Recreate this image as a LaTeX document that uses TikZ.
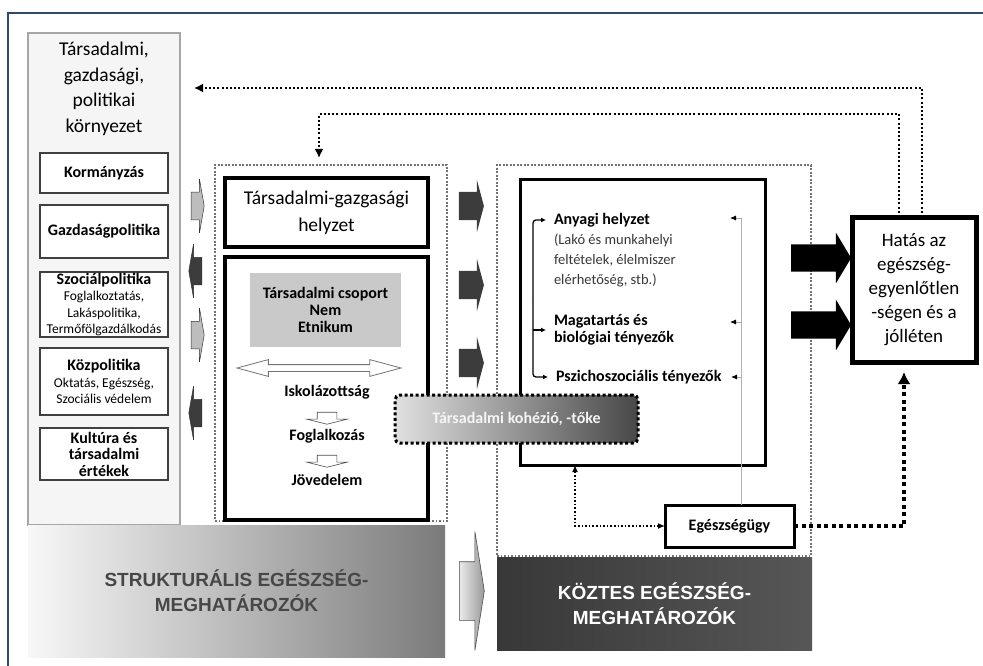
\documentclass[tikz,border=0pt]{standalone}
\usepackage{fontspec}
\setmainfont{Carlito}
\newfontfamily\capsfont{Liberation Sans}
\usepackage{xcolor}
\usetikzlibrary{arrows.meta,shapes.arrows}

\definecolor{framecol}{HTML}{2E4A6B}
\definecolor{lightarr}{HTML}{BDBDBD}
\definecolor{darkarr}{HTML}{3C3C3C}
\definecolor{grayfill}{HTML}{C9C9C9}

\begin{document}
\begin{tikzpicture}[x=1pt,y=-1pt,
    every node/.style={inner sep=0pt,outer sep=0pt},
    smallbox/.style={draw=black!75,line width=1.5pt,fill=white,minimum width=128pt,
      align=center,font=\bfseries\fontsize{16}{16.5}\selectfont},
    thickbox/.style={draw=black,line width=4pt,fill=white},
    dotbox/.style={draw=black!55,line width=1.6pt,dash pattern=on 1.6pt off 1.9pt},
    boldtxt/.style={font=\bfseries\fontsize{16}{17}\selectfont,align=center},
    sidearr/.style={single arrow,draw=black!80,line width=0.5pt,minimum height=13pt,
      inner xsep=0pt,inner ysep=13.5pt,single arrow head extend=13pt,single arrow tip angle=160},
    midarr/.style={single arrow,fill=darkarr,minimum height=25pt,inner xsep=0pt,inner ysep=14pt,
      single arrow head extend=12pt,single arrow tip angle=150},
    bigarr/.style={single arrow,fill=black,minimum height=60pt,inner xsep=0pt,inner ysep=13.5pt,
      single arrow head extend=11.5pt,single arrow tip angle=118},
    downarr/.style={single arrow,shape border rotate=270,draw=black!70,fill=white,
      line width=0.6pt,minimum height=12pt,inner xsep=9.5pt,inner ysep=0pt,
      single arrow head extend=10.5pt,single arrow tip angle=152},
    brkarr/.style={line width=1.3pt,rounded corners=3pt,shorten >=8pt,
      -{Latex[length=5pt,width=5pt]}},
    grayarr/.style={draw=black!35,line width=0.8pt,-{Latex[length=6pt,width=5pt,color=black]}},
    dotlink/.style={line width=1.6pt,dash pattern=on 1.6pt off 2pt,
      {Latex[length=7pt,width=6pt]}-{Latex[length=7pt,width=6pt]}},
    fb/.style={line width=2.2pt,dash pattern=on 2pt off 2.2pt,-{Latex[length=9pt,width=9pt]}},
    fbthick/.style={line width=4pt,dash pattern=on 4pt off 3.5pt,shorten >=10pt,
      -{Latex[length=12pt,width=13pt]}},
    capstxt/.style={font=\capsfont\bfseries\fontsize{19}{25}\selectfont,align=center}]

\useasboundingbox (0,0) rectangle (983,666);
\draw[framecol,line width=2pt] (8,670) -- (8,13) -- (990,13);

% left column
\node[draw=black!35,line width=2.5pt,fill=black!4,minimum width=152pt,minimum height=492pt] (env) at (104,279) {};
\node[font=\fontsize{19.5}{25.5}\selectfont,align=center] (envtitle) at (104,89) {Társadalmi,\\gazdasági,\\politikai\\környezet};
\node[smallbox,minimum height=40pt] (gov) at (104,173) {Kormányzás};
\node[smallbox,minimum height=53pt] (econ) at (104,231.5) {Gazdaságpolitika};
\node[smallbox,minimum height=65pt] (soc) at (104,304.5) {Szociálpolitika\\
  \mdseries\fontsize{13.5}{15.5}\selectfont Foglalkoztatás,\\
  \mdseries\fontsize{13.5}{15.5}\selectfont Lakáspolitika,\\
  \mdseries\fontsize{13.5}{15.5}\selectfont Termőfölgazdálkodás};
\node[smallbox,minimum height=67pt] (pub) at (104,381.5) {Közpolitika\\
  \mdseries\fontsize{13.5}{15.5}\selectfont Oktatás, Egészség,\\
  \mdseries\fontsize{13.5}{15.5}\selectfont Szociális védelem};
\node[smallbox,minimum height=52pt] (cult) at (104,454) {Kultúra és\\társadalmi\\értékek};

\node[sidearr,fill=lightarr] (s1) at (196.5,206) {};
\node[sidearr,fill=darkarr,shape border rotate=180] (s2) at (196.5,271) {};
\node[sidearr,fill=lightarr] (s3) at (196.5,335) {};
\node[sidearr,fill=darkarr,shape border rotate=180] (s4) at (196.5,413) {};

% structural block
\node[dotbox,minimum width=232pt,minimum height=356pt] (strukt) at (331,343) {};
\node[thickbox,minimum width=203pt,minimum height=69pt,align=center,
  font=\fontsize{19.5}{27}\selectfont] (pos) at (326.5,212.5) {Társadalmi-gazgasági\\helyzet};
\node[thickbox,minimum width=203pt,minimum height=263pt] (grp) at (326.5,388.5) {};
\node[fill=grayfill,minimum width=151pt,minimum height=74pt,boldtxt] (soccls) at (325.5,310) {Társadalmi csoport\\Nem\\Etnikum};
\node[double arrow,draw=black!55,fill=white,line width=0.8pt,minimum height=164pt,
  inner xsep=0pt,inner ysep=3pt,double arrow head extend=5pt,double arrow tip angle=30] (dbl) at (319,368) {};
\node[boldtxt] (isk) at (327,392) {Iskolázottság};
\node[downarr] (d1) at (327,417) {};
\node[boldtxt] (fog) at (327,436) {Foglalkozás};
\node[downarr] (d2) at (327,460) {};
\node[boldtxt] (jov) at (327,480) {Jövedelem};

\node[midarr] (m1) at (469.5,206) {};
\node[midarr] (m2) at (469.5,285) {};
\node[midarr] (m3) at (469.5,363) {};

% intermediary block
\node[dotbox,minimum width=314pt,minimum height=391pt] (kozt) at (654,360.5) {};
\node[draw=black,line width=3pt,fill=white,minimum width=245pt,minimum height=285pt] (inner) at (642.5,322.5) {};
\node[anchor=west,font=\bfseries\fontsize{16}{17}\selectfont] (mat) at (554,220) {Anyagi helyzet};
\node[anchor=west,align=left,text=black!78,font=\fontsize{14.5}{20}\selectfont] (matdet) at (554,260) {(Lakó és munkahelyi\\feltételek, élelmiszer\\elérhetőség, stb.)};
\node[anchor=west,align=left,font=\bfseries\fontsize{16}{17}\selectfont] (beh) at (554,330) {Magatartás és\\biológiai tényezők};
\node[anchor=west,font=\bfseries\fontsize{16}{17}\selectfont] (psy) at (556,377) {Pszichoszociális tényezők};

\coordinate (brk) at (533,300);
\draw[brkarr] (brk) |- (mat.west);
\draw[brkarr] (brk) |- (psy.west);
\draw[brkarr] (brk |- beh.west) -- (beh.west);

\node[draw=black,line width=3pt,fill=white,minimum width=129pt,minimum height=42pt,
  font=\bfseries\fontsize{16}{17}\selectfont] (care) at (729.5,526) {Egészségügy};

\coordinate (rtop) at (741,218);
\coordinate (r1) at (730,218);
\coordinate (r2) at (730,322);
\coordinate (r3) at (731,377);
\draw[draw=black!30,line width=0.8pt] (care.north -| rtop) -- (rtop);
\draw[grayarr] (rtop) -- (r1);
\draw[grayarr] (rtop |- r2) -- (r2);
\draw[grayarr] (rtop |- r3) -- (r3);

\node[draw=black,line width=3pt,dash pattern=on 3pt off 2.5pt,rounded corners=5pt,
  left color=black!12,right color=black!72,minimum width=243pt,minimum height=48pt,
  text=black!4,font=\bfseries\fontsize{16}{17}\selectfont] (coh) at (516.5,419) {Társadalmi kohézió, -tőke};

\coordinate (cx) at (575,0);
\draw[dotlink] (inner.south -| cx) |- (care.west);

% outcome
\node[draw=black,line width=5pt,fill=white,minimum width=124pt,minimum height=145pt,align=center,
  font=\fontsize{19}{24}\selectfont] (hatas) at (914,289.5) {Hatás az\\egészség-\\egyenlőtlen\\-ségen és a\\jólléten};
\node[bigarr] (b1) at (817,258) {};
\node[bigarr] (b2) at (817,325) {};

\coordinate (hx) at (904,0);
\draw[fbthick] (care.east) -| (hatas.south -| hx);

\coordinate (ox) at (922,0);
\coordinate (envfb) at (194,88);
\draw[fb] (hatas.north -| ox) |- (envfb);
\coordinate (ix) at (899,0);
\coordinate (iturn) at (319,114);
\draw[fb,shorten >=7pt] (hatas.north -| ix) |- (iturn) -- (iturn |- strukt.north);

% bottom labels
\node[left color=black!3,right color=black!52,minimum width=417pt,minimum height=132pt,
  capstxt,text=black!72] (sbox) at (236.5,591) {STRUKTURÁLIS EGÉSZSÉG-\\MEGHATÁROZÓK};
\node[single arrow,draw=black!70,line width=0.6pt,left color=black!8,right color=black!40,
  minimum height=25pt,inner xsep=0pt,inner ysep=29pt,single arrow head extend=30pt,
  single arrow tip angle=162] (barr) at (469.5,591) {};
\node[left color=black!78,right color=black!66,minimum width=315pt,minimum height=93pt,
  capstxt,text=white] (ibox) at (654.5,603.5) {KÖZTES EGÉSZSÉG-\\MEGHATÁROZÓK};
\end{tikzpicture}
\end{document}
